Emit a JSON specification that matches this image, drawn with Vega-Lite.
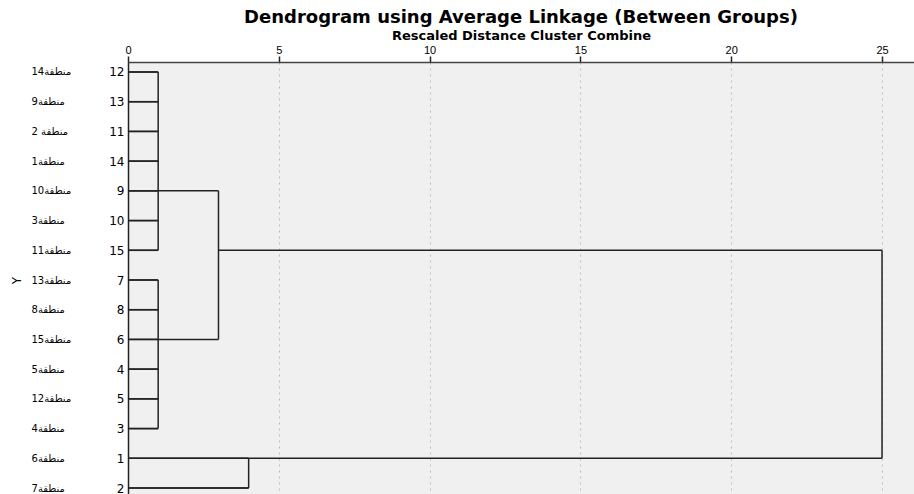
{
  "$schema": "https://vega.github.io/schema/vega-lite/v6.json",
  "autosize": {"type": "none"},
  "padding": {"left": 128, "top": 62, "right": 0, "bottom": 0},
  "width": 786,
  "height": 436,
  "background": "white",
  "config": {"view": {"fill": "#f0f0f0", "stroke": null}, "font": "Liberation Sans"},
  "title": {"text": "Dendrogram using Average Linkage (Between Groups)", "font": "DejaVu Sans", "fontSize": 18, "fontWeight": "bold", "anchor": "middle", "frame": "group", "offset": 2, "color": "black"},
  "datasets": {
    "leaves": [
      {"row": 1, "case": 12, "name": "14منطقة", "from": 0, "to": 1},
      {"row": 2, "case": 13, "name": "9منطقة", "from": 0, "to": 1},
      {"row": 3, "case": 11, "name": "2 منطقة", "from": 0, "to": 1},
      {"row": 4, "case": 14, "name": "1منطقة", "from": 0, "to": 1},
      {"row": 5, "case": 9, "name": "10منطقة", "from": 0, "to": 1},
      {"row": 6, "case": 10, "name": "3منطقة", "from": 0, "to": 1},
      {"row": 7, "case": 15, "name": "11منطقة", "from": 0, "to": 1},
      {"row": 8, "case": 7, "name": "13منطقة", "from": 0, "to": 1},
      {"row": 9, "case": 8, "name": "8منطقة", "from": 0, "to": 1},
      {"row": 10, "case": 6, "name": "15منطقة", "from": 0, "to": 1},
      {"row": 11, "case": 4, "name": "5منطقة", "from": 0, "to": 1},
      {"row": 12, "case": 5, "name": "12منطقة", "from": 0, "to": 1},
      {"row": 13, "case": 3, "name": "4منطقة", "from": 0, "to": 1},
      {"row": 14, "case": 1, "name": "6منطقة", "from": 0, "to": 4},
      {"row": 15, "case": 2, "name": "7منطقة", "from": 0, "to": 4}
    ],
    "links": [
      {"from": 1, "to": 1, "r1": 1, "r2": 7},
      {"from": 1, "to": 1, "r1": 8, "r2": 13},
      {"from": 1, "to": 3, "r1": 5, "r2": 5},
      {"from": 1, "to": 3, "r1": 10, "r2": 10},
      {"from": 3, "to": 3, "r1": 5, "r2": 10},
      {"from": 3, "to": 25, "r1": 7, "r2": 7},
      {"from": 4, "to": 4, "r1": 14, "r2": 15},
      {"from": 4, "to": 25, "r1": 14, "r2": 14},
      {"from": 25, "to": 25, "r1": 7, "r2": 14}
    ]
  },
  "encoding": {
    "x": {
      "field": "from", "type": "quantitative",
      "scale": {"domain": [0, 26.06], "nice": false, "zero": false},
      "axis": {
        "orient": "top", "values": [0, 5, 10, 15, 20, 25],
        "title": "Rescaled Distance Cluster Combine",
        "titleFont": "DejaVu Sans", "titleFontSize": 13, "titleFontWeight": "bold", "titleColor": "black", "titlePadding": 2,
        "labelFont": "Liberation Sans", "labelFontSize": 11, "labelColor": "black", "labelPadding": 1, "labelFlush": false,
        "tickSize": 6, "tickColor": "#222", "tickWidth": 1.5,
        "domainColor": "#444", "domainWidth": 1.5,
        "grid": true, "gridColor": "#bdbdbd", "gridDash": [2, 4], "gridWidth": 1
      }
    },
    "x2": {"field": "to"}
  },
  "layer": [
    {
      "data": {"name": "leaves"},
      "mark": {"type": "rule", "color": "#222", "strokeWidth": 1.5},
      "encoding": {
        "y": {
          "field": "case", "type": "nominal", "sort": {"field": "row", "op": "min"},
          "scale": {"type": "point", "padding": 0.3365},
          "axis": {"orient": "left", "title": null, "labelFont": "DejaVu Sans", "labelFontSize": 12, "labelColor": "black", "labelPadding": 4, "ticks": false, "tickSize": 0, "domain": true, "domainColor": "#222", "domainWidth": 1.5, "grid": false}
        }
      }
    },
    {
      "data": {"name": "leaves"},
      "mark": {"type": "rule", "color": "#222", "strokeWidth": 1.5},
      "encoding": {
        "y": {
          "field": "name", "type": "nominal", "sort": {"field": "row", "op": "min"},
          "scale": {"type": "point", "padding": 0.3365},
          "axis": {"orient": "left", "title": "Y", "titleFont": "DejaVu Sans", "titleFontSize": 12, "titleFontWeight": "normal", "titleColor": "black", "titlePadding": 8, "labelFont": "DejaVu Sans", "labelFontSize": 10, "labelColor": "black", "labelAlign": "left", "labelPadding": 97, "ticks": false, "tickSize": 0, "domain": false, "grid": false}
        }
      }
    },
    {
      "data": {"name": "links"},
      "mark": {"type": "rule", "color": "#222", "strokeWidth": 1.5},
      "encoding": {
        "y": {"field": "r1", "type": "quantitative", "scale": {"domain": [0.6635, 15.3365], "reverse": true, "nice": false, "zero": false}, "axis": null},
        "y2": {"field": "r2"}
      }
    }
  ],
  "resolve": {"scale": {"y": "independent"}, "axis": {"y": "independent"}}
}
